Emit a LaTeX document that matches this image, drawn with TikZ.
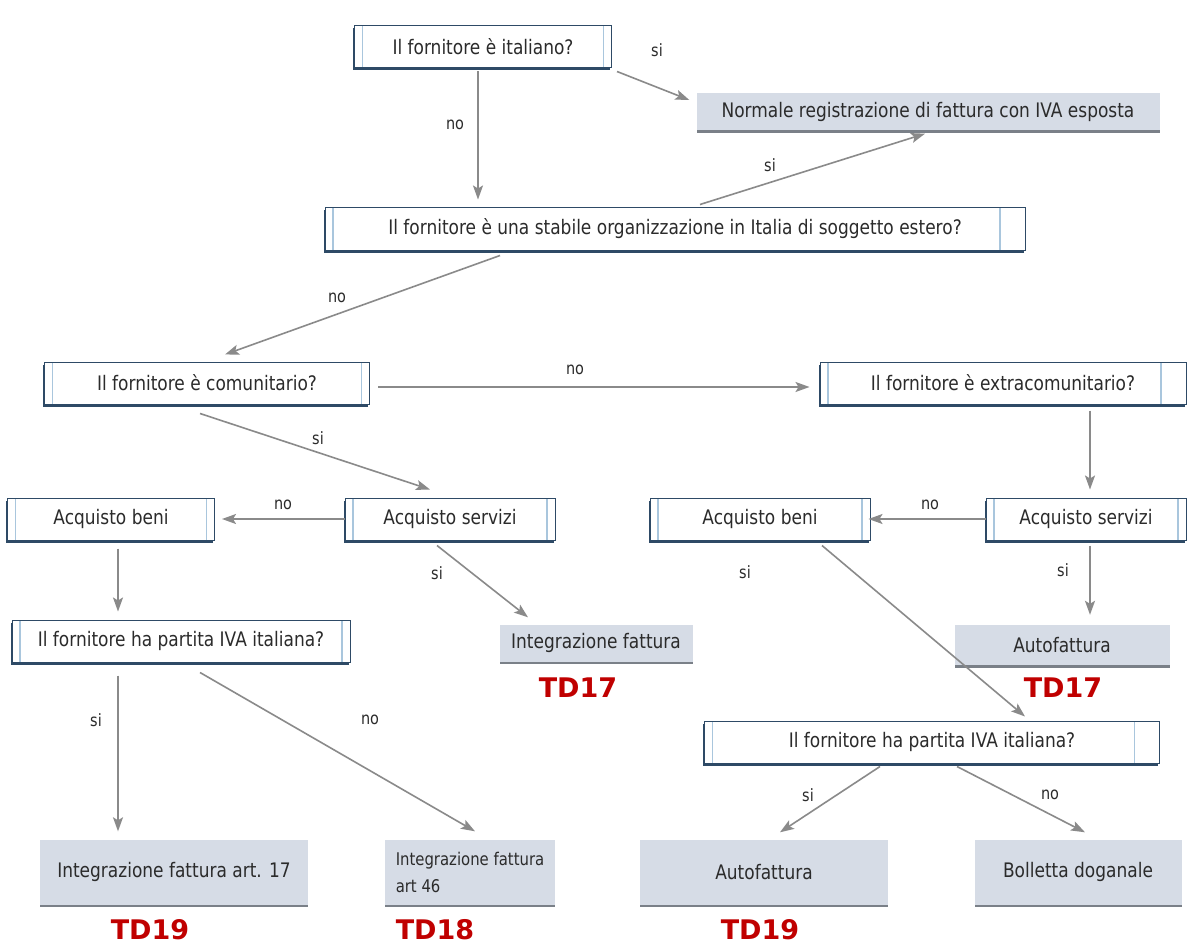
\documentclass[tikz,border=0pt]{standalone}
\usepackage{fontspec}
\setmainfont{DejaVu Sans}[FakeStretch=0.85]
\newfontfamily\tdfont{DejaVu Sans}
\usetikzlibrary{shadows,arrows.meta}
\definecolor{boxnavy}{HTML}{2E4A66}
\definecolor{barblue}{HTML}{A9C6DD}
\definecolor{resfill}{HTML}{D6DCE6}
\definecolor{resshadow}{HTML}{7A8088}
\definecolor{arrgray}{HTML}{8A8A8A}
\definecolor{txtgray}{HTML}{2B2B2B}
\definecolor{tdred}{HTML}{C00000}
\tikzset{
  rinset/.store in=\rinset, rinset=8pt,
  qbox/.style={draw=boxnavy, line width=1pt, fill=white, minimum height=42pt, inner sep=0pt,
    text=txtgray, font=\fontsize{20}{23}\selectfont,
    drop shadow={shadow xshift=-1.5pt, shadow yshift=-2.5pt, fill=boxnavy, opacity=1},
    path picture={\draw[barblue, line width=1.2pt]
      ([xshift=8pt]path picture bounding box.north west) -- ([xshift=8pt]path picture bounding box.south west)
      ([xshift=-\rinset]path picture bounding box.north east) -- ([xshift=-\rinset]path picture bounding box.south east);}},
  rbox/.style={fill=resfill, minimum height=38pt, inner sep=0pt, text=txtgray,
    font=\fontsize{20}{25}\selectfont,
    drop shadow={shadow xshift=0pt, shadow yshift=-2.5pt, fill=resshadow, opacity=1}},
  arr/.style={draw=arrgray, line width=1.6pt, -{Stealth[length=14pt,width=10pt,inset=3pt]}},
  lbl/.style={text=txtgray, font=\fontsize{17}{20}\selectfont},
  td/.style={text=tdred, font=\tdfont\bfseries\fontsize{27}{30}\selectfont}
}
\begin{document}
\begin{tikzpicture}[x=1pt,y=-1pt]
  \useasboundingbox[fill=white] (0,0) rectangle (1187,947);

  % Questions
  \node[qbox, minimum width=257pt] (italiano) at (483,47) {Il fornitore è italiano?};
  \node[qbox, minimum width=700pt, rinset=25pt] (stabile) at (675,229) {Il fornitore è una stabile organizzazione in Italia di soggetto estero?};
  \node[qbox, minimum width=325pt] (comunit) at (207,383) {Il fornitore è comunitario?};
  \node[qbox, minimum width=366pt, rinset=25pt] (extracom) at (1003,383) {Il fornitore è extracomunitario?};
  \node[qbox, minimum width=207pt] (beniL) at (111,519) {Acquisto beni};
  \node[qbox, minimum width=210pt] (serviziL) at (450,519) {Acquisto servizi};
  \node[qbox, minimum width=220pt] (beniR) at (760,519) {Acquisto beni};
  \node[qbox, minimum width=200pt] (serviziR) at (1086,519) {Acquisto servizi};
  \node[qbox, minimum width=338pt] (partitaL) at (181,641) {Il fornitore ha partita IVA italiana?};
  \node[qbox, minimum width=455pt, rinset=25pt] (partitaR) at (932,742) {Il fornitore ha partita IVA italiana?};

  % Results
  \node[rbox, minimum width=463pt, minimum height=37pt] (normale) at (928,112) {Normale registrazione di fattura con IVA esposta};
  \node[rbox, minimum width=193pt, minimum height=37pt] (integraz) at (596,643) {Integrazione fattura};
  \node[rbox, minimum width=215pt, minimum height=40pt] (autofattR) at (1062,645) {Autofattura};
  \node[rbox, minimum width=268pt, minimum height=65pt] (art17) at (174,872) {Integrazione fattura art. 17};
  \node[rbox, minimum width=170pt, minimum height=65pt, align=left, font=\fontsize{17.5}{27}\selectfont] (art46) at (470,872) {Integrazione fattura\\art 46};
  \node[rbox, minimum width=248pt, minimum height=65pt] (autofattB) at (764,872) {Autofattura};
  \node[rbox, minimum width=207pt, minimum height=65pt] (bolletta) at (1078,872) {Bolletta doganale};

  % Codes
  \node[td] (tdA) at (578,688) {TD17};
  \node[td] (tdB) at (1063,688) {TD17};
  \node[td] (tdC) at (150,930) {TD19};
  \node[td] (tdD) at (435,930) {TD18};
  \node[td] (tdE) at (760,930) {TD19};

  % Connectors
  \draw[arr] ([xshift=-5pt,yshift=-3pt]italiano.south) -- ([xshift=-197pt,yshift=8pt]stabile.north);
  \draw[arr] ([xshift=5pt,yshift=-3pt]italiano.south east) -- ([xshift=-7pt,yshift=12pt]normale.west);
  \draw[arr] ([xshift=25pt,yshift=3pt]stabile.north) -- ([xshift=-3pt,yshift=-3pt]normale.south);
  \draw[arr] ([xshift=-175pt,yshift=-5pt]stabile.south) -- ([xshift=18pt,yshift=7pt]comunit.north);
  \draw[arr] ([xshift=8pt,yshift=-4pt]comunit.east) -- ([xshift=-10pt,yshift=-4pt]extracom.west);
  \draw[arr] ([xshift=-7pt,yshift=-9pt]comunit.south) -- ([xshift=-20pt,yshift=8pt]serviziL.north);
  \draw[arr] (serviziL.west) -- ([xshift=7pt]beniL.east);
  \draw[arr] ([xshift=7pt,yshift=-8pt]beniL.south) -- ([xshift=-63pt,yshift=8pt]partitaL.north);
  \draw[arr] ([xshift=-13pt,yshift=-5pt]serviziL.south) -- ([xshift=-68pt,yshift=7pt]integraz.north);
  \draw[arr] ([xshift=-63pt,yshift=-13pt]partitaL.south) -- ([xshift=-56pt,yshift=8pt]art17.north);
  \draw[arr] ([xshift=19pt,yshift=-10pt]partitaL.south) -- ([xshift=5pt,yshift=8pt]art46.north);
  \draw[arr] ([xshift=87pt,yshift=-6pt]extracom.south) -- ([xshift=4pt,yshift=8pt]serviziR.north);
  \draw[arr] (serviziR.west) -- ([xshift=-2pt]beniR.east);
  \draw[arr] ([xshift=4pt,yshift=-5pt]serviziR.south) -- ([xshift=28pt,yshift=10pt]autofattR.north);
  \draw[arr] ([xshift=62pt,yshift=-5pt]beniR.south) -- ([xshift=93pt,yshift=4pt]partitaR.north);
  \draw[arr] ([xshift=-52pt,yshift=-3pt]partitaR.south) -- ([xshift=16pt,yshift=7pt]autofattB.north);
  \draw[arr] ([xshift=25pt,yshift=-3pt]partitaR.south) -- ([xshift=7pt,yshift=7pt]bolletta.north);

  % Labels
  \node[lbl] (noA) at (455,125) {no};
  \node[lbl] (siA) at (657,50) {si};
  \node[lbl] (siB) at (770,165) {si};
  \node[lbl] (noB) at (337,298) {no};
  \node[lbl] (noC) at (575,370) {no};
  \node[lbl] (siC) at (318,438) {si};
  \node[lbl] (noD) at (283,505) {no};
  \node[lbl] (siD) at (437,573) {si};
  \node[lbl] (siE) at (96,720) {si};
  \node[lbl] (noE) at (370,720) {no};
  \node[lbl] (noF) at (930,505) {no};
  \node[lbl] (siF) at (1063,570) {si};
  \node[lbl] (siG) at (745,572) {si};
  \node[lbl] (siH) at (808,795) {si};
  \node[lbl] (noG) at (1050,795) {no};
\end{tikzpicture}
\end{document}
